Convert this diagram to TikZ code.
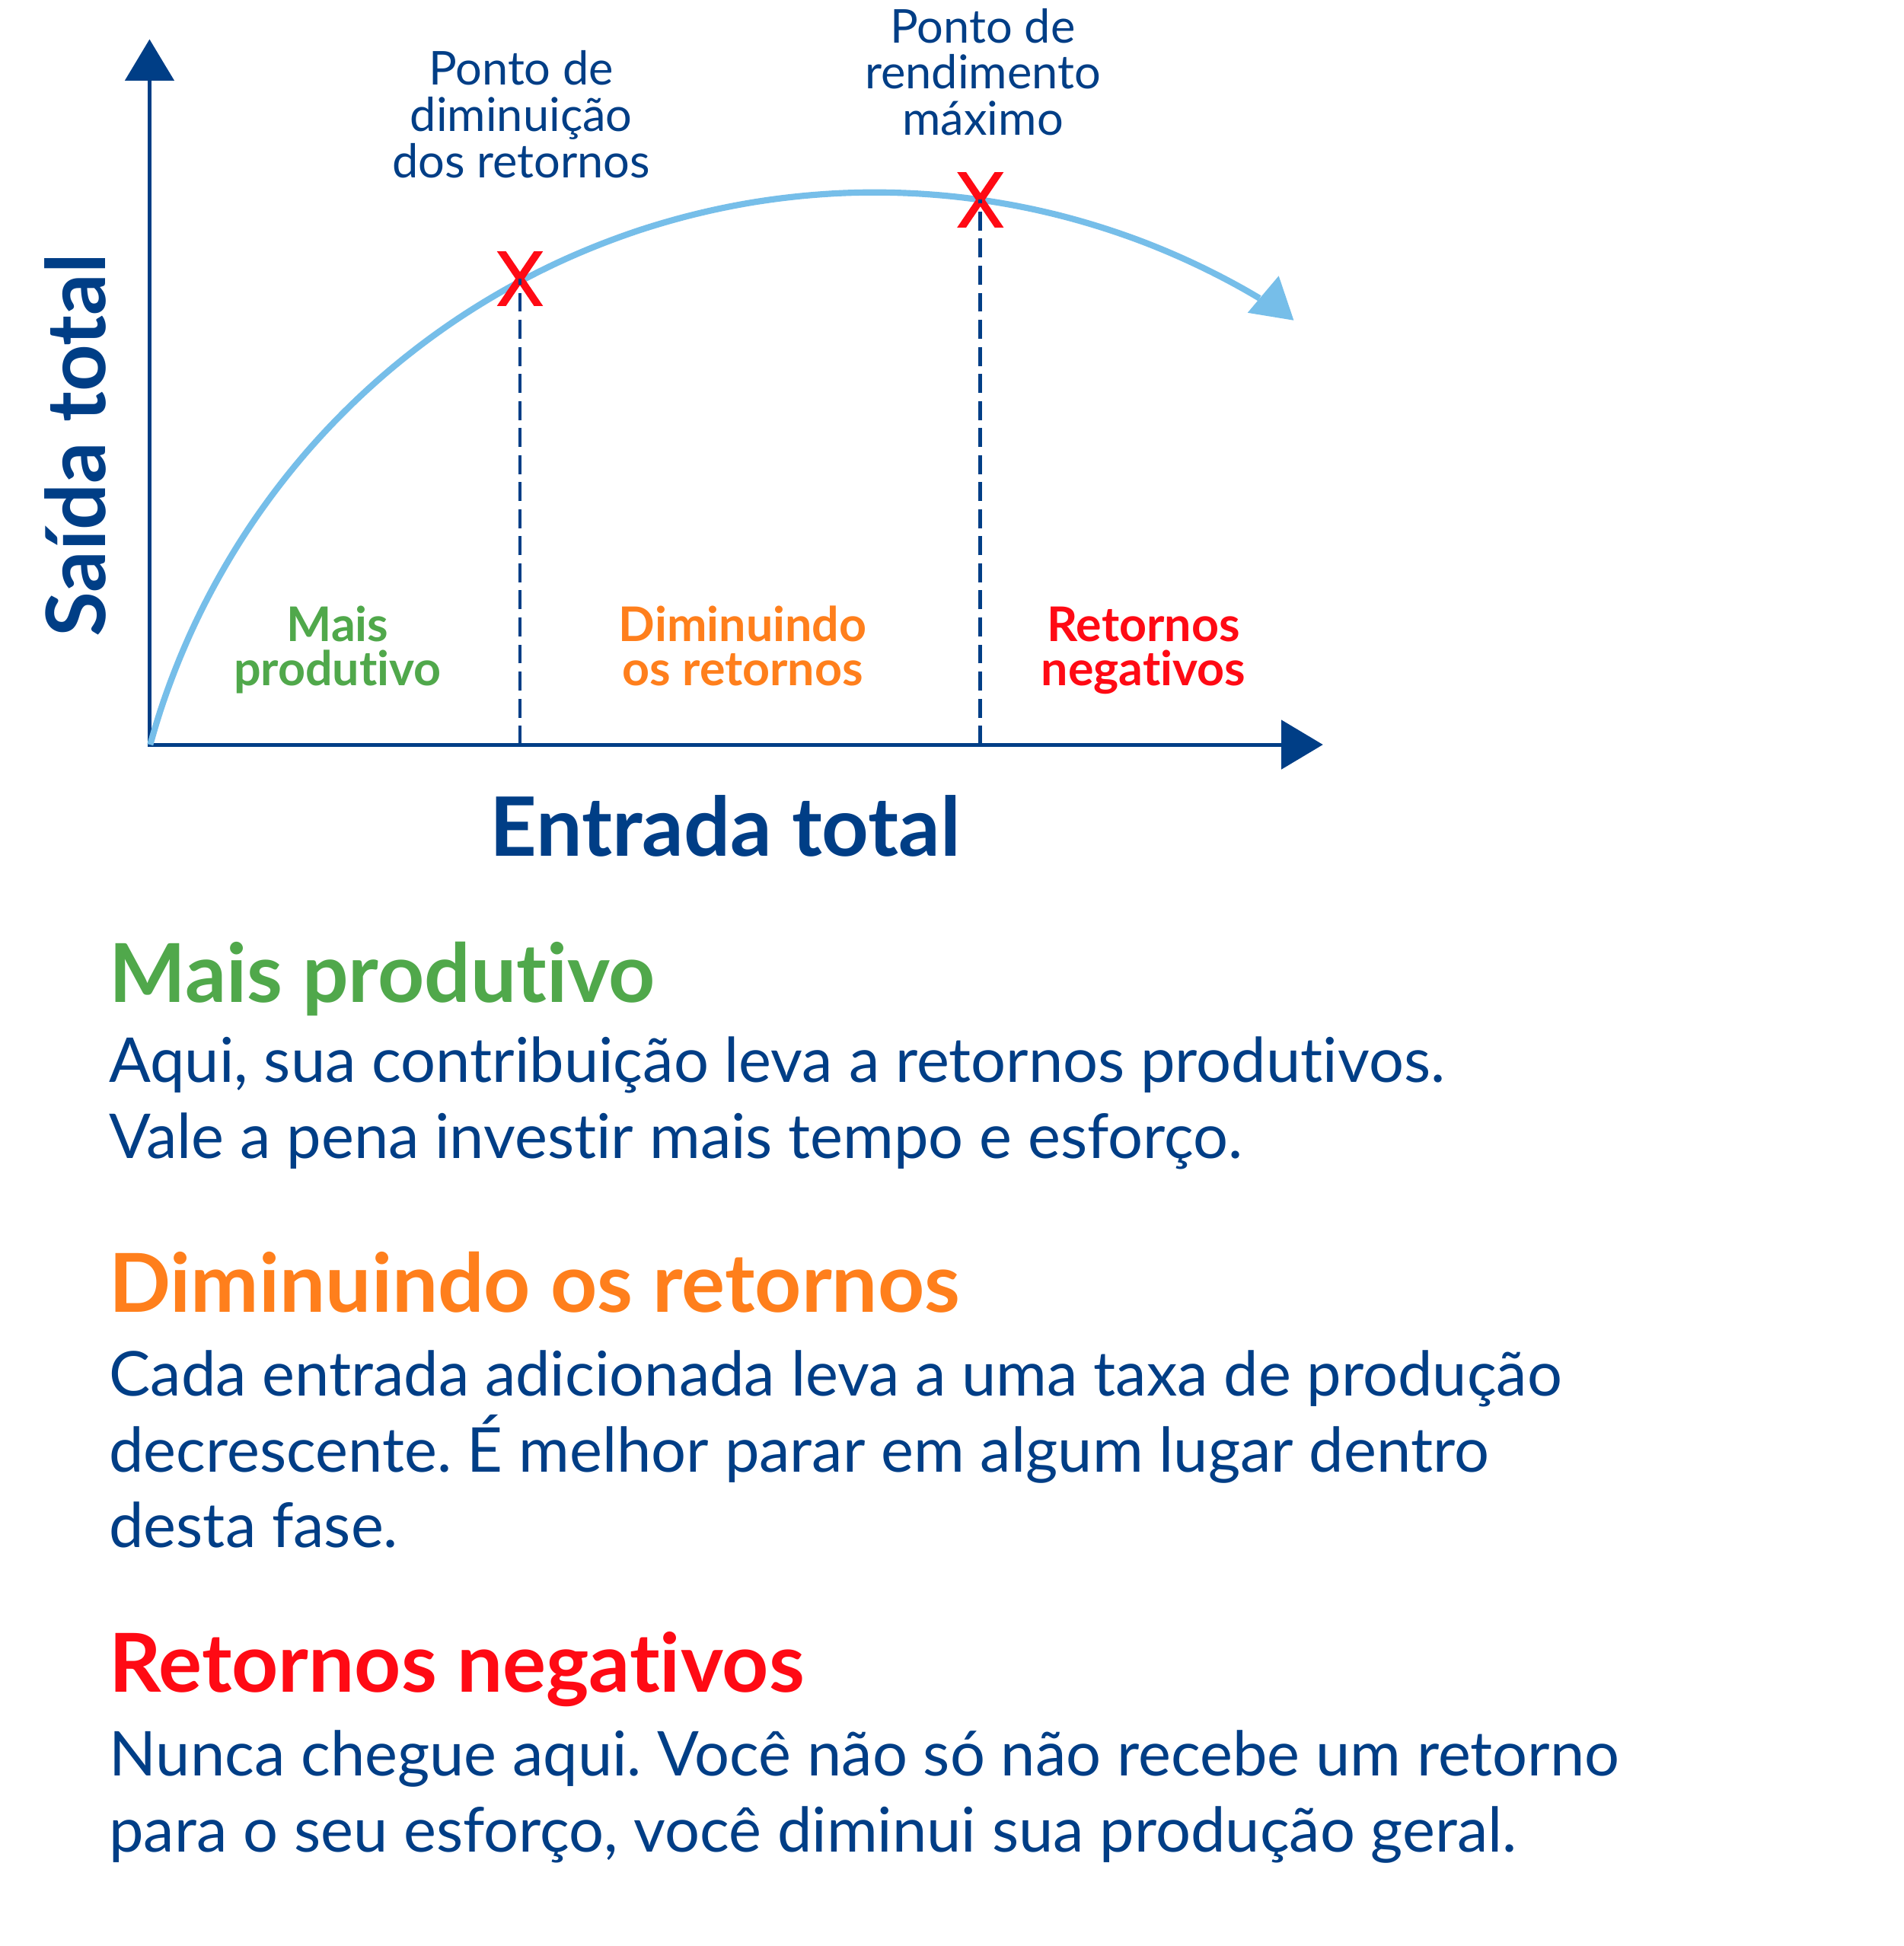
\documentclass[tikz,border=0pt]{standalone}
\usepackage{fontspec}
\setmainfont{Lato}[Ligatures=NoCommon]
\frenchspacing
\definecolor{navy}{HTML}{003E86}
\definecolor{cgreen}{HTML}{50A84B}
\definecolor{corange}{HTML}{FF7F1C}
\definecolor{cred}{HTML}{FF0A14}
\definecolor{lblue}{HTML}{76BEE9}
\newcommand\fbody{\fontsize{49.8}{61}\selectfont}
\newcommand\fhead{\fontsize{65.5}{70}\selectfont\bfseries}
\newcommand\faxis{\fontsize{66}{70}\selectfont\bfseries}
\newcommand\fregion{\fontsize{38.5}{38}\selectfont\bfseries}
\newcommand\fpoint{\fontsize{37.6}{37}\selectfont}
\begin{document}
\begin{tikzpicture}[x=1pt,y=-1pt,
  every node/.style={inner sep=0pt,outer sep=0pt},
  axisline/.style={draw=navy,line width=3pt},
  tipfill/.style={fill=navy},
  guide/.style={draw=navy,line width=3pt,dash pattern=on 15.3pt off 6.5pt},
  curveline/.style={draw=lblue,line width=5pt},
  body/.style={anchor=base west,text=navy,font=\fbody},
  head/.style={anchor=base west,font=\fhead},
  region/.style={anchor=base,font=\fregion},
  point/.style={anchor=base,text=navy,font=\fpoint},
  axislabel/.style={anchor=base,text=navy,font=\faxis},
  redx/.pic={
    \clip (-19,-22) rectangle (19,22);
    \draw[cred,line width=6pt] (-17.9,-26.4) -- (17.9,26.4) (17.9,-26.4) -- (-17.9,26.4);
  }
]
\fill[white] (0,0) rectangle (1534,1568);
\useasboundingbox (0,0) rectangle (1534,1568);

% coordinates
\coordinate (O) at (120.5,600);
\coordinate (ytop) at (120.5,65);
\coordinate (xend) at (1032.5,600);
\coordinate (dr) at (419,224.5);
\coordinate (mx) at (790,161);
\coordinate (drb) at (419,600);
\coordinate (mxb) at (790,600);

% axes
\draw[axisline] (ytop) -- (O) -- (xend);
\fill[tipfill] (120.5,31.7) -- (140.5,65) -- (100.5,65) -- cycle;
\fill[tipfill] (1066,600) -- (1032.5,620) -- (1032.5,580) -- cycle;

% curve: circular arc, centre (705,760.7), radius 605.7
\draw[curveline] plot[smooth,domain=195.38:300.78,samples=120]
  ({705+605.7*cos(\x)},{760.7+605.7*sin(\x)});
\fill[lblue] (1042.5,258.1) -- (1030.4,222.3) -- (1005.3,252) -- cycle;

% markers
\pic at (dr) {redx};
\pic at (mx) {redx};

% dashed guides
\draw[guide] (drb) -- (dr);
\draw[guide] (mxb) -- (mx);

% point labels
\node[point] (p1a) at (420,68.5) {Ponto de};
\node[point] (p1b) at (420,105.7) {diminuição};
\node[point] (p1c) at (420,143.2) {dos retornos};
\node[point] (p2a) at (792,34.8) {Ponto de};
\node[point] (p2b) at (792,71.6) {rendimento};
\node[point] (p2c) at (792,108.8) {máximo};

% region labels
\node[region,text=cgreen] (r1a) at (272,517) {Mais};
\node[region,text=cgreen] (r1b) at (272,552.7) {produtivo};
\node[region,text=corange] (r2a) at (598.5,517) {Diminuindo};
\node[region,text=corange] (r2b) at (598.5,552.7) {os retornos};
\node[region,text=cred] (r3a) at (921.5,517) {Retornos};
\node[region,text=cred] (r3b) at (921.5,552.7) {negativos};

% axis labels
\node[axislabel,rotate=90] (ylab) at (85,358.9) {Saída total};
\node[axislabel] (xlab) at (584.5,689.7) {Entrada total};

% explanations
\node[head,text=cgreen] (h1) at (88,807.5) {Mais produtivo};
\node[body] (b1a) at (88,872.3) {Aqui, sua contribuição leva a retornos produtivos.};
\node[body] (b1b) at (88,933.3) {Vale a pena investir mais tempo e esforço.};

\node[head,text=corange] (h2) at (88,1057) {Diminuindo os retornos};
\node[body] (b2a) at (88,1125) {Cada entrada adicionada leva a uma taxa de produção};
\node[body] (b2b) at (88,1186) {decrescente. É melhor parar em algum lugar dentro};
\node[body] (b2c) at (88,1247) {desta fase.};

\node[head,text=cred] (h3) at (88,1363.2) {Retornos negativos};
\node[body] (b3a) at (88,1431) {Nunca chegue aqui. Você não só não recebe um retorno};
\node[body] (b3b) at (88,1492) {para o seu esforço, você diminui sua produção geral.};
\end{tikzpicture}
\end{document}
